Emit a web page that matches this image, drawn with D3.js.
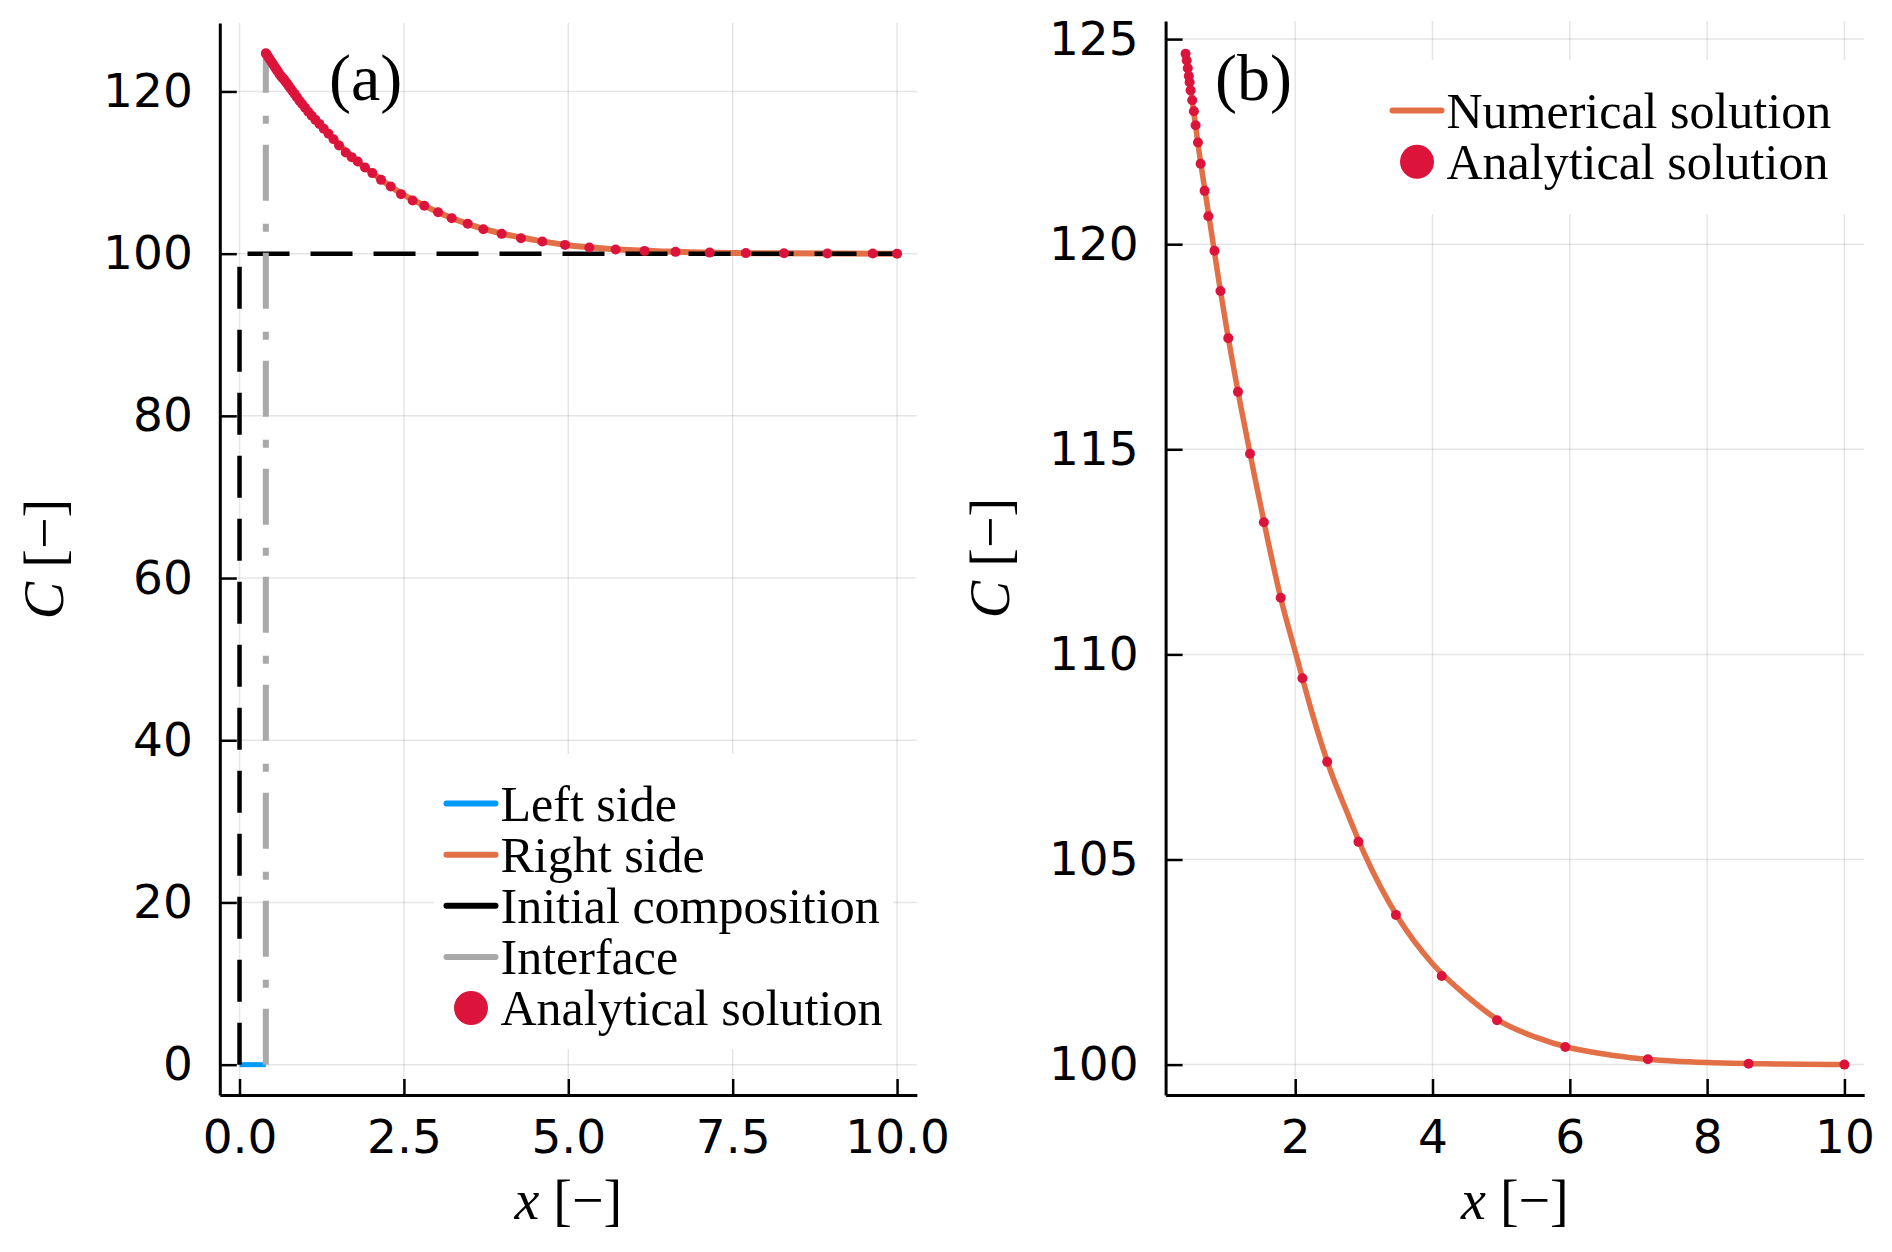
<!DOCTYPE html>
<html>
<head>
<meta charset="utf-8">
<script src="https://cdn.jsdelivr.net/npm/d3@7"></script>
<style>
  body { margin: 0; background: #fff; }
  .tick text { font-family: "DejaVu Sans", sans-serif; font-size: 47px; fill: #000; }
  .serif { font-family: "Liberation Serif", "DejaVu Serif", serif; fill: #000; }
</style>
</head>
<body>
<svg id="chart" width="1892" height="1252"></svg>
<script>
// ---- data ----
// numerical solution (right side of the interface)
const numX = [0.4, 0.5, 0.6, 0.7, 0.8, 0.9, 1.0, 1.2, 1.4, 1.6, 1.8, 2.0, 2.25, 2.5, 2.75, 3.0,
  3.5, 4.0, 4.5, 5.0, 5.5, 6.0, 6.5, 7.0, 7.5, 8.0, 9.0, 10.0];
const numC = [124.7, 123.5, 122.25, 121.15, 120.07, 118.97, 117.96, 116.11, 114.41, 112.79, 111.3, 110.07,
  108.55, 107.23, 106.17, 105.17, 103.58, 102.46, 101.67, 101.04, 100.67, 100.41, 100.26, 100.15,
  100.09, 100.05, 100.015, 100.0];

// analytical solution, panel (a)
const anaX_a = [0.40, 0.41, 0.43, 0.45, 0.47, 0.49, 0.51, 0.53, 0.55, 0.57, 0.59, 0.61, 0.63, 0.65,
  0.674, 0.696, 0.72, 0.746, 0.774, 0.804, 0.837, 0.872, 0.911, 0.952, 0.997, 1.045, 1.098, 1.154,
  1.215, 1.281, 1.353, 1.43, 1.513, 1.615, 1.706, 1.797, 1.908, 2.02, 2.152, 2.30, 2.456, 2.633,
  2.81, 3.02, 3.227, 3.47, 3.708, 3.987, 4.28, 4.605, 4.95, 5.32, 5.72, 6.16, 6.63, 7.15, 7.70,
  8.28, 8.94, 9.63, 10.0];
const anaC_a = [124.7, 124.6, 124.35, 124.1, 123.85, 123.6, 123.35, 123.1, 122.85, 122.6, 122.4, 122.1,
  121.9, 121.7, 121.5, 121.25, 121.0, 120.7, 120.4, 120.05, 119.7, 119.3, 118.86, 118.45, 118.0,
  117.5, 117.0, 116.5, 116.0, 115.4, 114.8, 114.1, 113.35, 112.48, 111.9, 111.37, 110.62, 109.93,
  109.1, 108.28, 107.34, 106.55, 105.9, 105.1, 104.38, 103.68, 103.02, 102.44, 101.91, 101.5,
  101.08, 100.75, 100.51, 100.34, 100.22, 100.13, 100.07, 100.04, 100.02, 100.01, 100.0];

// analytical solution, panel (b)
const anaX_b = [0.403, 0.42, 0.435, 0.45, 0.462, 0.476, 0.50, 0.524, 0.549, 0.583, 0.622, 0.68,
  0.735, 0.824, 0.911, 1.025, 1.166, 1.342, 1.543, 1.789, 2.105, 2.466, 2.921, 3.467, 4.134,
  4.94, 5.934, 7.137, 8.604, 10.0];
const anaC_b = [124.64, 124.48, 124.29, 124.1, 123.95, 123.75, 123.51, 123.24, 122.9, 122.48, 121.96,
  121.3, 120.68, 119.84, 118.86, 117.71, 116.4, 114.89, 113.22, 111.38, 109.42, 107.38, 105.43,
  103.65, 102.16, 101.08, 100.43, 100.13, 100.02, 100.0];

// left side, initial composition, interface
const leftX = [0, 0.4];
const leftC = [0, 0];
const initX = [0, 0, 10];
const initC = [0, 100, 100];
const interfaceX = [0.4, 0.4];
const interfaceC = [0, 124.7];

// ticks
const ticksAx = [0, 2.5, 5, 7.5, 10];
const ticksAy = [0, 20, 40, 60, 80, 100, 120];
const ticksBx = [2, 4, 6, 8, 10];
const ticksBy = [100, 105, 110, 115, 120, 125];

// legends
const legendA = ["Left side", "Right side", "Initial composition", "Interface", "Analytical solution"];
const legendB = ["Numerical solution", "Analytical solution"];

const zip = (xs, ys) => xs.map((x, i) => [x, ys[i]]);
const pad = (lo, hi) => [lo - 0.03 * (hi - lo), hi + 0.03 * (hi - lo)];

const colors = { left: "#009af9", right: "#e26f46", init: "#000", iface: "#a9a9a9", ana: "#dc143c" };

const svg = d3.select("#chart");

/**
 * Draws one panel: grid, axes, labels.
 * Returns the group and the scales to plot on.
 */
function drawPanel(opt) {
  const x = d3.scaleLinear().domain(opt.xDom).range([opt.left, opt.right]);
  const y = d3.scaleLinear().domain(opt.yDom).range([opt.bottom, opt.top]);
  const g = svg.append("g");

  // grid
  g.append("g").selectAll("line.vx").data(opt.xTicks).enter().append("line")
    .attr("x1", d => x(d)).attr("x2", d => x(d))
    .attr("y1", opt.top).attr("y2", opt.bottom)
    .attr("stroke", "#000").attr("stroke-opacity", 0.1).attr("stroke-width", 1.5);
  g.append("g").selectAll("line.hy").data(opt.yTicks).enter().append("line")
    .attr("y1", d => y(d)).attr("y2", d => y(d))
    .attr("x1", opt.left).attr("x2", opt.right)
    .attr("stroke", "#000").attr("stroke-opacity", 0.1).attr("stroke-width", 1.5);

  // axes, ticks pointing inward
  const xAxis = g.append("g").attr("transform", `translate(0,${opt.bottom})`)
    .call(d3.axisBottom(x).tickValues(opt.xTicks).tickFormat(opt.xFmt)
      .tickSizeInner(-16).tickSizeOuter(0).tickPadding(25));
  const yAxis = g.append("g").attr("transform", `translate(${opt.left},0)`)
    .call(d3.axisLeft(y).tickValues(opt.yTicks).tickFormat(opt.yFmt)
      .tickSizeInner(-17).tickSizeOuter(0).tickPadding(27));
  [xAxis, yAxis].forEach(a => {
    a.select(".domain").attr("stroke", "#000").attr("stroke-width", 3);
    a.selectAll(".tick line").attr("stroke", "#000").attr("stroke-width", 2.5);
  });

  // axis labels
  const xl = g.append("text").attr("class", "serif")
    .attr("x", (opt.left + opt.right) / 2).attr("y", 1219)
    .attr("text-anchor", "middle").style("font-size", "56px");
  xl.append("tspan").style("font-style", "italic").text("x");
  xl.append("tspan").text(" [\u2212]");

  const yl = g.append("text").attr("class", "serif")
    .attr("transform", `translate(${opt.left - 157},${(opt.top + opt.bottom) / 2}) rotate(-90)`)
    .attr("text-anchor", "middle").style("font-size", "56px");
  yl.append("tspan").style("font-style", "italic").text("C");
  yl.append("tspan").text(" [\u2212]");

  // panel tag
  g.append("text").attr("class", "serif")
    .attr("x", opt.tagX).attr("y", 100)
    .style("font-size", "66px").text(opt.tag);

  return { g, x, y };
}

function line(g, x, y, pts, color, width, dash) {
  g.append("path")
    .datum(pts)
    .attr("fill", "none")
    .attr("stroke", color)
    .attr("stroke-width", width)
    .attr("stroke-dasharray", dash || null)
    .attr("d", d3.line().x(d => x(d[0])).y(d => y(d[1])).curve(d3.curveMonotoneX));
}

function markers(g, x, y, pts) {
  g.append("g").selectAll("circle").data(pts).enter().append("circle")
    .attr("cx", d => x(d[0])).attr("cy", d => y(d[1]))
    .attr("r", 5).attr("fill", colors.ana);
}

function legend(g, box, rows, x0, y0) {
  g.append("rect").attr("x", box[0]).attr("y", box[1]).attr("width", box[2]).attr("height", box[3])
    .attr("fill", "#fff");
  rows.forEach((r, i) => {
    const yy = y0 + i * 51.1;
    if (r.color && !r.dot) {
      g.append("line").attr("x1", x0).attr("x2", x0 + 49).attr("y1", yy).attr("y2", yy)
        .attr("stroke", r.color).attr("stroke-width", 6).attr("stroke-linecap", "round");
    } else {
      g.append("circle").attr("cx", x0 + 24.5).attr("cy", yy).attr("r", 17).attr("fill", r.color);
    }
    g.append("text").attr("class", "serif").attr("x", x0 + 54).attr("y", yy + 17)
      .style("font-size", "50px").text(r.name);
  });
}

// ---- panel (a) ----
const yMaxA = d3.max(anaC_a);
const pa = drawPanel({
  left: 219.8, right: 916.8, top: 23, bottom: 1095,
  xDom: pad(0, 10), yDom: pad(0, yMaxA),
  xTicks: ticksAx, yTicks: ticksAy,
  xFmt: d3.format(".1f"), yFmt: d3.format("d"),
  tag: "(a)", tagX: 329
});
legend(pa.g, [434, 754, 459, 295], [
  { name: legendA[0], color: colors.left },
  { name: legendA[1], color: colors.right },
  { name: legendA[2], color: colors.init },
  { name: legendA[3], color: colors.iface },
  { name: legendA[4], color: colors.ana, dot: true }
], 446.5, 803.6);
line(pa.g, pa.x, pa.y, zip(leftX, leftC), colors.left, 5);
line(pa.g, pa.x, pa.y, zip(numX, numC), colors.right, 6);
pa.g.append("path")
  .attr("fill", "none").attr("stroke", colors.init).attr("stroke-width", 4.5)
  .attr("stroke-dasharray", "42,21")
  .attr("d", d3.line().x(d => pa.x(d[0])).y(d => pa.y(d[1]))(zip(initX, initC)));
line(pa.g, pa.x, pa.y, zip(interfaceX, interfaceC), colors.iface, 6, "56,21,8,23");
markers(pa.g, pa.x, pa.y, zip(anaX_a, anaC_a));

// ---- panel (b) ----
const pb = drawPanel({
  left: 1165.6, right: 1864.2, top: 21, bottom: 1095,
  xDom: pad(d3.min(numX), d3.max(numX)), yDom: pad(100, yMaxA),
  xTicks: ticksBx, yTicks: ticksBy,
  xFmt: d3.format("d"), yFmt: d3.format("d"),
  tag: "(b)", tagX: 1215
});
legend(pb.g, [1380, 60, 478, 154], [
  { name: legendB[0], color: colors.right },
  { name: legendB[1], color: colors.ana, dot: true }
], 1392.5, 110.6);
line(pb.g, pb.x, pb.y, zip(numX, numC), colors.right, 5.5);
markers(pb.g, pb.x, pb.y, zip(anaX_b, anaC_b));
</script>
</body>
</html>
